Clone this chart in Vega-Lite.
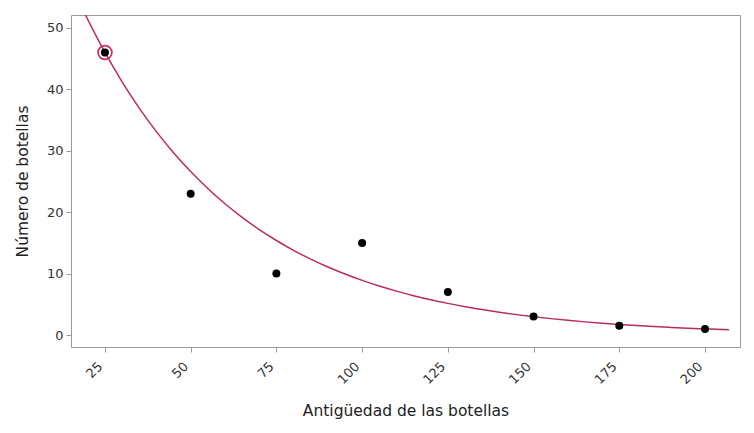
{
  "$schema": "https://vega.github.io/schema/vega-lite/v6.json",
  "width": 669,
  "height": 332,
  "autosize": "none",
  "padding": {"left": 71, "top": 15, "right": 14, "bottom": 86},
  "background": "white",
  "config": {
    "font": "DejaVu Sans",
    "view": {"stroke": "#999999", "strokeWidth": 1},
    "axis": {
      "grid": false,
      "domain": false,
      "tickColor": "#999999",
      "tickSize": 5,
      "labelColor": "#333333",
      "labelFontSize": 13,
      "titleColor": "#222222",
      "titleFontSize": 15.5,
      "titleFontWeight": "normal",
      "labelPadding": 3
    }
  },
  "datasets": {
    "points": [
      {"edad": 25, "botellas": 46},
      {"edad": 50, "botellas": 23},
      {"edad": 75, "botellas": 10},
      {"edad": 100, "botellas": 15},
      {"edad": 125, "botellas": 7},
      {"edad": 150, "botellas": 3},
      {"edad": 175, "botellas": 1.5},
      {"edad": 200, "botellas": 1}
    ],
    "curve": [
      {"edad": 19, "ajuste": 52.46},
      {"edad": 25, "ajuste": 46},
      {"edad": 30, "ajuste": 41.23},
      {"edad": 35, "ajuste": 36.95},
      {"edad": 40, "ajuste": 33.12},
      {"edad": 45, "ajuste": 29.68},
      {"edad": 50, "ajuste": 26.61},
      {"edad": 55, "ajuste": 23.85},
      {"edad": 60, "ajuste": 21.37},
      {"edad": 65, "ajuste": 19.16},
      {"edad": 70, "ajuste": 17.17},
      {"edad": 75, "ajuste": 15.39},
      {"edad": 80, "ajuste": 13.79},
      {"edad": 85, "ajuste": 12.36},
      {"edad": 90, "ajuste": 11.08},
      {"edad": 95, "ajuste": 9.93},
      {"edad": 100, "ajuste": 8.90},
      {"edad": 105, "ajuste": 7.98},
      {"edad": 110, "ajuste": 7.15},
      {"edad": 115, "ajuste": 6.41},
      {"edad": 120, "ajuste": 5.74},
      {"edad": 125, "ajuste": 5.15},
      {"edad": 130, "ajuste": 4.61},
      {"edad": 135, "ajuste": 4.14},
      {"edad": 140, "ajuste": 3.71},
      {"edad": 145, "ajuste": 3.32},
      {"edad": 150, "ajuste": 2.98},
      {"edad": 155, "ajuste": 2.67},
      {"edad": 160, "ajuste": 2.39},
      {"edad": 165, "ajuste": 2.14},
      {"edad": 170, "ajuste": 1.92},
      {"edad": 175, "ajuste": 1.72},
      {"edad": 180, "ajuste": 1.54},
      {"edad": 185, "ajuste": 1.38},
      {"edad": 190, "ajuste": 1.24},
      {"edad": 195, "ajuste": 1.11},
      {"edad": 200, "ajuste": 1.00},
      {"edad": 205, "ajuste": 0.89},
      {"edad": 207, "ajuste": 0.85}
    ],
    "highlight": [
      {"edad": 25, "botellas": 46}
    ]
  },
  "layer": [
    {
      "data": {"name": "curve"},
      "mark": {"type": "line", "color": "#bb2c58", "strokeWidth": 1.5, "clip": true, "interpolate": "monotone"},
      "encoding": {
        "x": {
          "field": "edad", "type": "quantitative",
          "scale": {"domain": [15.1, 210.2], "nice": false, "zero": false},
          "axis": {"values": [25, 50, 75, 100, 125, 150, 175, 200], "labelAngle": -45, "labelAlign": "right", "labelBaseline": "middle", "labelOffset": -5, "labelPadding": 12, "title": "Antigüedad de las botellas", "titlePadding": 17}
        },
        "y": {
          "field": "ajuste", "type": "quantitative",
          "scale": {"domain": [-1.95, 52.1], "nice": false, "zero": false},
          "axis": {"values": [0, 10, 20, 30, 40, 50], "title": "Número de botellas", "titlePadding": 16}
        }
      }
    },
    {
      "data": {"name": "highlight"},
      "mark": {"type": "point", "shape": "circle", "filled": false, "stroke": "#c8325e", "strokeWidth": 1.8, "size": 190, "opacity": 1},
      "encoding": {
        "x": {"field": "edad", "type": "quantitative"},
        "y": {"field": "botellas", "type": "quantitative"}
      }
    },
    {
      "data": {"name": "points"},
      "mark": {"type": "circle", "color": "black", "opacity": 1, "size": 64},
      "encoding": {
        "x": {"field": "edad", "type": "quantitative"},
        "y": {"field": "botellas", "type": "quantitative"}
      }
    }
  ]
}
